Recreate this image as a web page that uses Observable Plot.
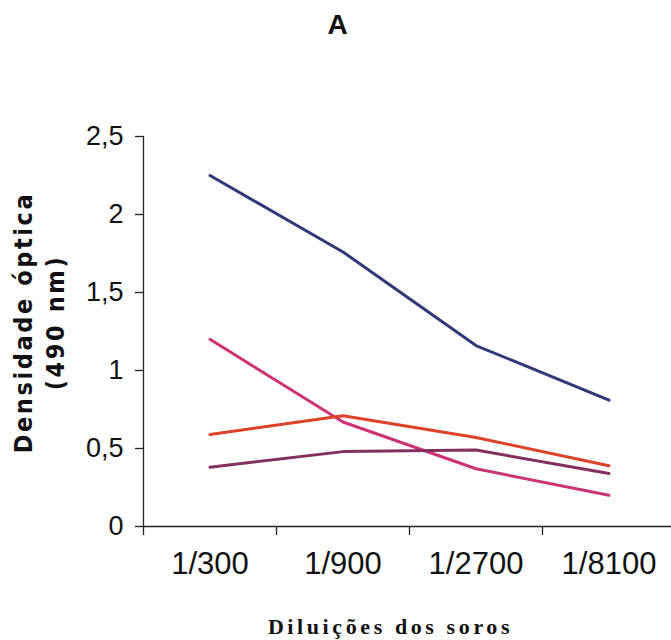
<!DOCTYPE html>
<html>
<head>
<meta charset="utf-8">
<script src="https://cdn.jsdelivr.net/npm/d3@7"></script>
<script src="https://cdn.jsdelivr.net/npm/@observablehq/plot@0.6"></script>
<style>
  html, body { margin: 0; padding: 0; background: #ffffff; }
  #chart svg { display: block; }
</style>
</head>
<body>
<div id="chart"></div>
<script>
// Data
const dilutions = ["1/300", "1/900", "1/2700", "1/8100"];
const seriesNames = ["azul", "rosa", "vermelho", "roxo"];
const seriesColors = ["#2f3878", "#cc3375", "#dd4128", "#83305f"];
const azul = [2.25, 1.76, 1.16, 0.81];
const rosa = [1.20, 0.67, 0.37, 0.20];
const vermelho = [0.59, 0.71, 0.57, 0.39];
const roxo = [0.38, 0.48, 0.49, 0.34];
const yTicks = [0, 0.5, 1, 1.5, 2, 2.5];
const title = "A";
const yLabel = "Densidade óptica\n(490 nm)";
const xLabel = "Diluições dos soros";

const valuesBySeries = {azul, rosa, vermelho, roxo};
const data = seriesNames.flatMap(s =>
  valuesBySeries[s].map((v, i) => ({series: s, i, dilution: dilutions[i], value: v}))
);

const W = 671, H = 640;
const chart = Plot.plot({
  width: W,
  height: H,
  marginLeft: 143,
  marginRight: 0,
  marginTop: 136,
  marginBottom: 114,
  style: {background: "#ffffff", fontFamily: "'Liberation Sans', Arial, sans-serif", color: "#111"},
  x: {type: "linear", domain: [-0.5, 3.5], range: [143, 675]},
  y: {domain: [0, 2.5]},
  color: {domain: seriesNames, range: seriesColors},
  marks: [
    Plot.frame({anchor: "left", stroke: "#222", strokeWidth: 1.3}),
    Plot.axisY({
      ticks: yTicks, tickSize: 8, tickPadding: 12, fontSize: 27,
      tickFormat: d => String(d).replace(".", ","), label: null,
      stroke: "#222", strokeWidth: 1.3, fill: "#111"
    }),
    Plot.axisX({
      ticks: [-0.5, 0.5, 1.5, 2.5], tickSize: 9, tickFormat: () => "", label: null,
      stroke: "#222", strokeWidth: 1.3
    }),
    Plot.axisX({
      ticks: [0, 1, 2, 3], tickSize: 0, tickPadding: 25, fontSize: 31,
      tickFormat: i => dilutions[i], label: null, fill: "#111"
    }),
    Plot.ruleY([0], {stroke: "#222", strokeWidth: 1.3}),
    Plot.line(data, {
      x: "i", y: "value", z: "series", stroke: "series",
      strokeWidth: 3, strokeLinejoin: "round", strokeLinecap: "round"
    }),
    Plot.text([title], {
      frameAnchor: "top-left", dx: 194, dy: -111, text: d => d,
      fontSize: 28, fontWeight: "bold", textAnchor: "middle", lineAnchor: "middle", fill: "#111"
    }),
    Plot.text([yLabel], {
      frameAnchor: "left", dx: -106, dy: -9, text: d => d, rotate: -90,
      fontSize: 25, fontWeight: "bold", fontFamily: "'DejaVu Sans Condensed', 'DejaVu Sans', sans-serif",
      textAnchor: "middle", lineAnchor: "middle", lineHeight: 1.3, fill: "#111"
    }),
    Plot.text([xLabel], {
      frameAnchor: "bottom", dx: -17, dy: 100, text: d => d,
      fontSize: 22, fontWeight: "bold", fontFamily: "'Liberation Serif', 'Times New Roman', serif",
      textAnchor: "middle", lineAnchor: "middle", fill: "#111"
    })
  ]
});
document.getElementById("chart").appendChild(chart);
// letter spacing for the label texts
chart.querySelectorAll("text").forEach(t => {
  if (t.textContent.includes("Densidade")) t.style.letterSpacing = "2.6px";
  if (t.textContent === xLabel) t.style.letterSpacing = "3.6px";
});
</script>
</body>
</html>
